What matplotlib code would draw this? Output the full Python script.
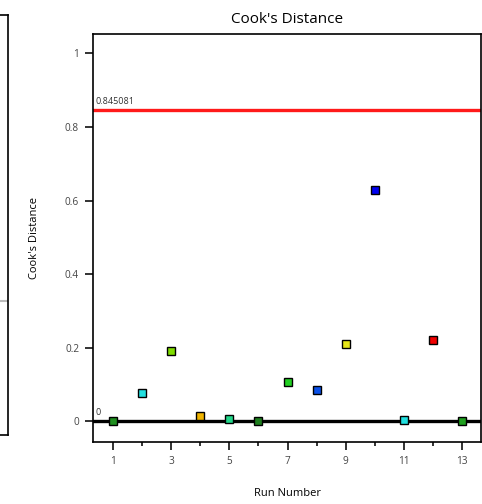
import numpy as np
import matplotlib
matplotlib.use("Agg")
from matplotlib import pyplot as plt
from matplotlib.ticker import MultipleLocator

plt.rcParams['font.family'] = ['Open Sans', 'DejaVu Sans']

runs = np.arange(1, 14)
cooks = [0.0, 0.076, 0.19, 0.014, 0.005, 0.0, 0.106, 0.084, 0.21, 0.629, 0.003, 0.22, 0.001]
colors = ['#1f8f1f', '#22e0e0', '#7fdc00', '#f0b400', '#22d68a', '#1e7f1e', '#22d022',
          '#0a50e8', '#e6e619', '#0000f0', '#22e0e0', '#f00000', '#1fa01f']
limit = 0.845081

fig = plt.figure(figsize=(4.82, 5.04), dpi=100)

# neighbouring panel, only its right edge is visible
side = fig.add_axes([-0.5, 1 - 435 / 504, 0.5166, 420 / 504])
side.set_xticks([])
side.set_yticks([])
for s in side.spines.values():
    s.set_linewidth(1.2)
side.set_ylim(0, 1)
side.axhline((435 - 301) / 420, xmin=0.97, xmax=1.0, color='#bbbbbb', lw=1.5)

ax = fig.add_axes([93 / 482, 1 - 442 / 504, 388 / 482, 408 / 504])
ax.set_xlim(0.31, 13.65)
ax.set_ylim(-0.057, 1.053)

ax.axhline(limit, color='#ff1a1a', lw=2.4, zorder=2)
ax.axhline(0, color='black', lw=2.4, zorder=2)
ax.text(0.38, limit + 0.012, f"{limit:.6f}", fontsize=6.5, color='#333333', va='bottom')
ax.text(0.38, 0.012, "0", fontsize=6.5, color='#333333', va='bottom')

for r, c, col in zip(runs, cooks, colors):
    ax.plot(r, c, 's', ms=6, mfc=col, mec='black', mew=1.0, zorder=3)

ax.xaxis.set_major_locator(MultipleLocator(2, offset=1))
ax.xaxis.set_minor_locator(MultipleLocator(1))
ax.set_yticks([0, 0.2, 0.4, 0.6, 0.8, 1.0])
ax.set_yticklabels(['0', '0.2', '0.4', '0.6', '0.8', '1'])
ax.tick_params(axis='both', which='major', labelsize=7.2, length=6, width=1.3,
               colors='#222222', labelcolor='#444444', pad=4)
ax.tick_params(axis='x', which='minor', length=3, width=1.3, colors='#222222')
ax.tick_params(axis='y', which='minor', length=0)
for s in ax.spines.values():
    s.set_linewidth(1.2)

ax.set_title("Cook's Distance", fontsize=11, pad=8)
ax.set_xlabel("Run Number", fontsize=8, labelpad=15)
ax.set_ylabel("Cook's Distance", fontsize=8, labelpad=18)

fig.savefig("out.png", dpi=100)
